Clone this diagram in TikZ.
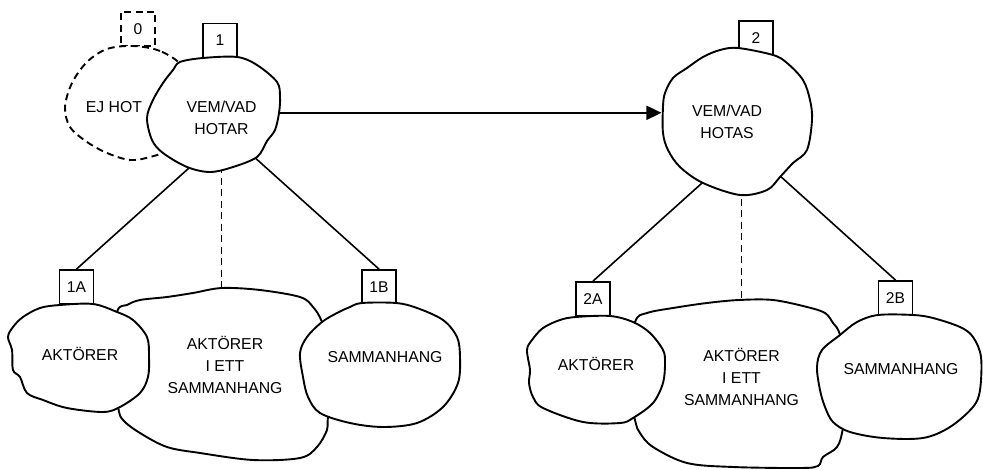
\documentclass[tikz,border=0pt]{standalone}
\usepackage{fontspec}
\setmainfont{Liberation Sans}
\usetikzlibrary{shapes.geometric,arrows.meta,backgrounds}

\begin{document}
\begin{tikzpicture}[x=1pt,y=-1pt,
  blob/.style={draw,fill=white,line width=1.9pt,line join=round},
  weak/.style={dash pattern=on 7pt off 4.5pt},
  tag/.style={draw,fill=white,line width=1.8pt,minimum size=34pt,inner sep=0pt,font=\fontsize{15.6}{19}\selectfont},
  blobtext/.style={ellipse,inner sep=0pt,align=center,font=\fontsize{15.8}{22}\selectfont},
  link/.style={line width=1.6pt},
  flow/.style={line width=2pt,-{Triangle[length=15pt,width=14pt]}}]
\path[use as bounding box] (0,0) rectangle (983,470);

% hotar
\node[tag,weak] (b0) at (138,29) {0};
\path[blob,weak] plot[smooth cycle,tension=0.55] coordinates {(182,66) (160,51) (133,46) (107,49) (87,62) (72,83) (65,107) (70,127) (87,142) (107,153) (130,160) (150,157) (166,150) (185,125) (190,92)};
\node[blobtext] (ejhot) at (114,107) {EJ HOT};

\node[tag] (b1) at (220,40.5) {1};
\path[blob] plot[smooth cycle,tension=0.55] coordinates {(180,62) (203,58) (237,57) (257,65) (277,82) (280,97) (279,113) (275,130) (267,141) (257,157) (233,167) (210,172) (187,167) (163,153) (152,140) (147,118) (153,100) (163,83) (173,70)};
\node[blobtext,minimum width=112pt,minimum height=96pt] (hotar) at (221.5,118) {VEM/VAD\\HOTAR};

\path[blob] plot[smooth cycle,tension=0.55] coordinates {(117,312) (127,305) (140,300) (167,297) (193,293) (222,288) (260,290) (300,297) (313,307) (322,322) (335,360) (328,417) (327,430) (317,447) (300,458) (253,460) (200,453) (167,447) (140,433) (123,420) (118,407) (110,360)};
\node[blobtext] (mix1) at (225,365) {AKTÖRER\\I ETT\\SAMMANHANG};

\node[tag] (b1A) at (76.5,287) {1A};
\path[blob] plot[smooth cycle,tension=0.55] coordinates {(60,305) (93,304) (117,312) (133,320) (147,337) (149,357) (148,377) (140,393) (120,407) (103,412) (67,408) (43,400) (27,393) (20,377) (13,370) (12,350) (8,337) (13,327) (23,317) (40,308)};
\node[blobtext] (akt1) at (80,353.5) {AKTÖRER};

\node[tag] (b1B) at (379,287) {1B};
\path[blob] plot[smooth cycle,tension=0.55] coordinates {(362,303) (396,303) (417,308) (443,320) (457,337) (460,357) (458,383) (443,407) (417,423) (383,427) (350,423) (320,413) (308,397) (303,377) (300,353) (307,337) (322,322) (337,313) (350,307)};
\node[blobtext] (sam1) at (385,357) {SAMMANHANG};

% hotas
\node[tag] (b2) at (756,38) {2};
\path[blob] plot[smooth cycle,tension=0.55] coordinates {(738,48) (773,55) (787,63) (803,80) (810,100) (812,120) (807,150) (793,163) (780,177) (767,190) (740,195) (703,183) (680,167) (668,150) (663,133) (663,107) (665,93) (673,78) (687,68) (703,57) (720,50)};
\node[blobtext,minimum width=132pt,minimum height=130pt] (hotas) at (727,122) {VEM/VAD\\HOTAS};

\path[blob] plot[smooth cycle,tension=0.55] coordinates {(635,322) (647,313) (673,308) (707,303) (739,300) (773,300) (807,307) (825,313) (833,323) (840,335) (850,380) (843,428) (837,447) (823,457) (818,466) (800,468) (733,467) (687,463) (653,447) (640,433) (635,420) (625,370)};
\node[blobtext] (mix2) at (741.5,377) {AKTÖRER\\I ETT\\SAMMANHANG};

\node[tag] (b2A) at (593,299) {2A};
\path[blob] plot[smooth cycle,tension=0.55] coordinates {(576,317) (610,316) (633,322) (650,333) (663,350) (665,363) (663,383) (653,403) (633,418) (620,423) (583,422) (543,408) (533,397) (529,383) (530,370) (527,350) (532,340) (543,328) (560,320)};
\node[blobtext] (akt2) at (596,364) {AKTÖRER};

\node[tag] (b2B) at (895.5,298) {2B};
\path[blob] plot[smooth cycle,tension=0.55] coordinates {(878,315) (913,315) (933,318) (960,327) (973,337) (981,357) (980,390) (973,407) (950,427) (923,438) (883,438) (850,432) (833,422) (825,407) (820,390) (817,367) (822,350) (840,335) (857,322)};
\node[blobtext] (sam2) at (901,369) {SAMMANHANG};

\begin{scope}[on background layer]
\draw[link] (hotar.240) -- (b1A.north);
\draw[link] (hotar.310) -- (b1B.north);
\draw[link,weak] (hotar.south) -- (hotar.south |- mix1.north);
\draw[link] (hotas.248) -- (b2A.north);
\draw[link] (hotas.314) -- (b2B.north);
\draw[link,weak] (mix2.north |- hotas.south) -- (mix2.north);
\draw[flow] (hotar.center |- hotas.172) -- (hotas.172);
\end{scope}
\end{tikzpicture}
\end{document}
